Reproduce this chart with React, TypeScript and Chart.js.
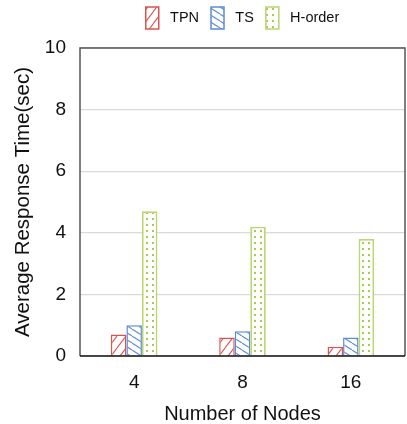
import React, { useEffect, useRef } from "react";
import { Chart, registerables } from "chart.js";

Chart.register(...registerables);

const categories = ["4", "8", "16"];
const tpnValues = [0.7, 0.6, 0.3];
const tsValues = [1.0, 0.8, 0.6];
const hOrderValues = [4.7, 4.2, 3.8];
const seriesNames = ["TPN", "TS", "H-order"];
const yTicks = [0, 2, 4, 6, 8, 10];

const RED = "#d9534f";
const BLUE = "#5b8dd6";
const GREEN = "#abc94f";
const GREEN_BORDER = "#bcd472";
const FONT = "'Liberation Sans', Arial, Helvetica, sans-serif";

function hatch(color: string, w: number, h: number, dir: "up" | "down") {
  const c = document.createElement("canvas");
  c.width = w;
  c.height = h;
  const ctx = c.getContext("2d")!;
  ctx.fillStyle = "#ffffff";
  ctx.fillRect(0, 0, w, h);
  ctx.strokeStyle = color;
  ctx.lineWidth = 1.1;
  for (let k = -1; k <= 1; k++) {
    ctx.beginPath();
    if (dir === "up") {
      ctx.moveTo(k * w, h);
      ctx.lineTo(k * w + w, 0);
    } else {
      ctx.moveTo(k * w, 0);
      ctx.lineTo(k * w + w, h);
    }
    ctx.stroke();
  }
  return ctx.createPattern(c, "repeat")!;
}

function dots(color: string, w: number, h: number) {
  const c = document.createElement("canvas");
  c.width = w;
  c.height = h;
  const ctx = c.getContext("2d")!;
  ctx.fillStyle = "#ffffff";
  ctx.fillRect(0, 0, w, h);
  ctx.fillStyle = color;
  ctx.fillRect(2, 2, 2, 2);
  return ctx.createPattern(c, "repeat")!;
}

const boxPlugin = {
  id: "plotBox",
  afterDraw(chart: any) {
    const { ctx, chartArea: a } = chart;
    ctx.save();
    ctx.strokeStyle = "#555555";
    ctx.lineWidth = 1.5;
    ctx.beginPath();
    ctx.moveTo(a.left, a.bottom);
    ctx.lineTo(a.left, a.top);
    ctx.lineTo(a.right, a.top);
    ctx.lineTo(a.right, a.bottom);
    ctx.stroke();
    ctx.strokeStyle = "#111111";
    ctx.beginPath();
    ctx.moveTo(a.left, a.bottom);
    ctx.lineTo(a.right, a.bottom);
    ctx.stroke();
    ctx.restore();
  },
};

export default function App() {
  const ref = useRef<HTMLCanvasElement>(null);
  useEffect(() => {
    const tpnFill = hatch(RED, 9, 12, "up");
    const tsFill = hatch(BLUE, 11, 7, "down");
    const hFill = dots(GREEN, 6, 6);
    const chart = new Chart(ref.current!, {
      type: "bar",
      data: {
        labels: categories,
        datasets: [
          { label: seriesNames[0], data: tpnValues, backgroundColor: tpnFill, borderColor: RED, borderWidth: 1.5 },
          { label: seriesNames[1], data: tsValues, backgroundColor: tsFill, borderColor: BLUE, borderWidth: 1.5 },
          { label: seriesNames[2], data: hOrderValues, backgroundColor: hFill, borderColor: GREEN_BORDER, borderWidth: 1.8 },
        ],
      },
      options: {
        animation: false,
        responsive: false,
        maintainAspectRatio: false,
        layout: { padding: { left: 0, right: 2, top: -5, bottom: 0 } },
        datasets: { bar: { categoryPercentage: 0.43, barPercentage: 1.0 } },
        plugins: {
          legend: {
            position: "top",
            fullSize: false,
            labels: {
              boxWidth: 13,
              boxHeight: 22,
              padding: 12,
              color: "#111",
              font: { family: FONT, size: 14.5 },
              generateLabels: (ch: any) =>
                ch.data.datasets.map((d: any, i: number) => ({
                  text: " " + d.label,
                  fillStyle: d.backgroundColor,
                  strokeStyle: d.borderColor,
                  lineWidth: 1.5,
                  datasetIndex: i,
                  hidden: false,
                  fontColor: "#111",
                })),
            },
          },
          tooltip: { enabled: false },
        },
        scales: {
          x: {
            grid: { display: false },
            border: { display: false },
            ticks: { color: "#111", font: { family: FONT, size: 19 }, padding: 7 },
            title: { display: true, text: "Number of Nodes", color: "#111", font: { family: FONT, size: 20 }, padding: { top: 0, bottom: -2 } },
            afterFit: (s: any) => { s.height = 68; },
          },
          spacer: {
            type: "category",
            position: "top",
            display: true,
            grid: { display: false },
            border: { display: false },
            ticks: { display: false },
            afterFit: (s: any) => { s.height = 9; },
          },
          y: {
            min: 0,
            max: 10,
            afterBuildTicks: (s: any) => { s.ticks = yTicks.map((v) => ({ value: v })); },
            grid: { color: "#d9d9d9", lineWidth: 1.2, drawTicks: false },
            border: { display: false },
            ticks: { color: "#111", font: { family: FONT, size: 19 }, padding: 14 },
            title: { display: true, text: "Average Response Time(sec)", color: "#111", font: { family: FONT, size: 20.5 }, padding: { top: 11, bottom: 0 } },
            afterFit: (s: any) => { s.width = 80; },
          },
        },
      },
      plugins: [boxPlugin],
    });
    return () => chart.destroy();
  }, []);
  return (
    <div style={{ position: "fixed", left: 0, top: 0, width: 407, height: 424, background: "#fff" }}>
      <canvas ref={ref} width={407} height={424} style={{ width: 407, height: 424 }} />
    </div>
  );
}
